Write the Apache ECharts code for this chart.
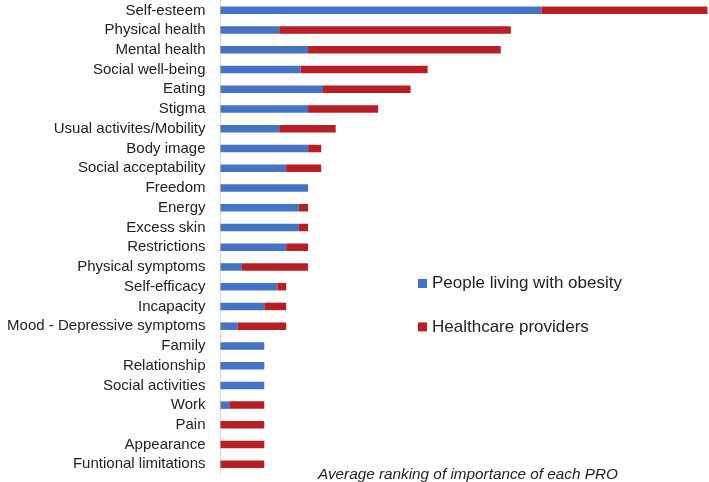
<!DOCTYPE html>
<html><head><meta charset="utf-8">
<script src="https://cdn.jsdelivr.net/npm/echarts@6/dist/echarts.min.js"></script>
<style>html,body{margin:0;padding:0;background:#fff}#c{width:709px;height:482px}</style>
</head><body><div id="c"></div>
<script>
const categories = ["Self-esteem","Physical health","Mental health","Social well-being","Eating","Stigma","Usual activites/Mobility","Body image","Social acceptability","Freedom","Energy","Excess skin","Restrictions","Physical symptoms","Self-efficacy","Incapacity","Mood - Depressive symptoms","Family","Relationship","Social activities","Work","Pain","Appearance","Funtional limitations"];
const people = [7.33,1.34,2.0,1.83,2.34,2.0,1.34,2.0,1.5,2.0,1.79,1.79,1.5,0.49,1.3,1.0,0.39,1.0,1.0,1.0,0.2,0,0,0];
const providers = [3.79,5.29,4.4,2.9,2.0,1.6,1.29,0.3,0.8,0,0.21,0.21,0.5,1.51,0.2,0.5,1.11,0,0,0,0.8,1.0,1.0,1.0];
const seriesNames = ["People living with obesity","Healthcare providers"];
const footnote = "Average ranking of importance of each PRO";

const chart = echarts.init(document.getElementById('c'), null, {renderer:'canvas'});
chart.setOption({
  animation:false,
  textStyle:{fontFamily:'"Liberation Sans", Arial, sans-serif'},
  title:{text:footnote,left:318,top:467,padding:0,textStyle:{fontSize:15.3,fontStyle:'italic',fontWeight:'normal',color:'#222'}},
  legend:{orient:'vertical',left:418,top:275,padding:0,itemWidth:9,itemHeight:9,itemGap:26.4,icon:'rect',
    textStyle:{fontSize:17,lineHeight:17,color:'#222'},data:seriesNames},
  grid:{left:220.5,top:0.5,height:473.7,width:487,containLabel:false},
  xAxis:{type:'value',min:0,max:11.12,show:false},
  yAxis:{type:'category',data:categories,inverse:true,
    axisLine:{show:true,lineStyle:{color:'#d9d9d9',width:1}},axisTick:{show:false},
    axisLabel:{fontSize:15,color:'#222',margin:15}},
  series:[
    {name:seriesNames[0],type:'bar',stack:'a',data:people,barWidth:7.5,itemStyle:{color:'#4472C4'}},
    {name:seriesNames[1],type:'bar',stack:'a',data:providers,barWidth:7.5,itemStyle:{color:'#B71F25'}}
  ]
});
</script></body></html>
